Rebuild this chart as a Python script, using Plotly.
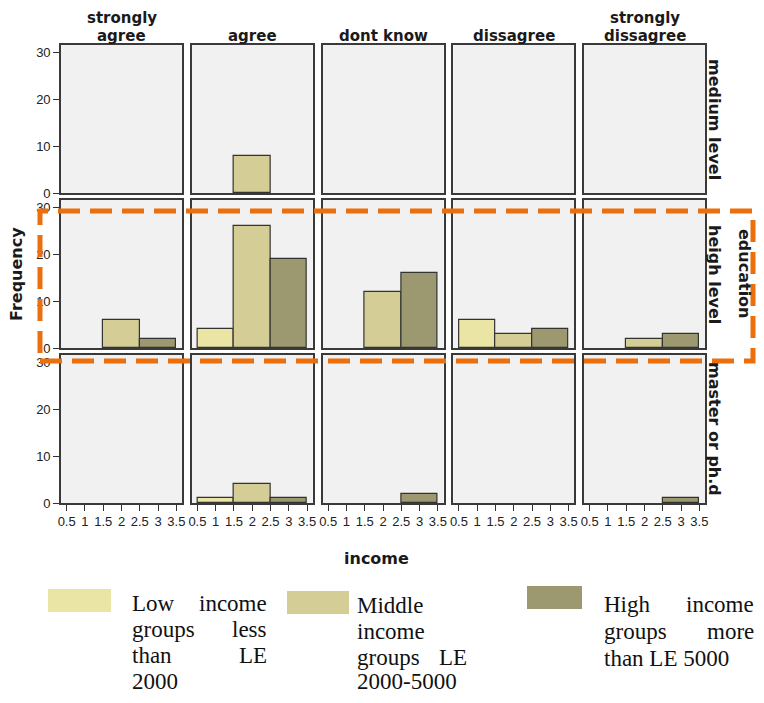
import plotly.graph_objects as go
from plotly.subplots import make_subplots

# ---------------- data ----------------
responses = ["strongly agree", "agree", "dont know", "dissagree", "strongly dissagree"]
header_lines = [["strongly", "agree"], ["agree"], ["dont know"], ["dissagree"], ["strongly", "dissagree"]]
education = ["medium level", "heigh level", "master or ph.d"]
income_codes = [1, 2, 3]
income_groups = ["Low income groups less than LE 2000",
                 "Middle income groups LE 2000-5000",
                 "High income groups more than LE 5000"]
# counts[education][response]
low_income = [[0, 0, 0, 0, 0],
              [0, 4, 0, 6, 0],
              [0, 1, 0, 0, 0]]
middle_income = [[0, 8, 0, 0, 0],
                 [6, 26, 12, 3, 2],
                 [0, 4, 0, 0, 0]]
high_income = [[0, 0, 0, 0, 0],
               [2, 19, 16, 4, 3],
               [0, 1, 2, 0, 1]]
x_tick_vals = [0.5, 1, 1.5, 2, 2.5, 3, 3.5]
x_tick_text = ["0.5", "1", "1.5", "2", "2.5", "3", "3.5"]
y_tick_vals = [0, 10, 20, 30]

colors = ["#EAE4A5", "#D4CE96", "#9C9870"]

# page has an 8px body margin; size the figure so the page does not overflow the window
OFF = 8
W, H = 764 - 2 * OFF, 703 - 2 * OFF
def px(x): return (x - OFF) / W
def py(y): return 1 - (y - OFF) / H

fig = make_subplots(rows=3, cols=5)

series = [low_income, middle_income, high_income]
for r in range(3):
    for c in range(5):
        xs, ys, cs = [], [], []
        for g in range(3):
            v = series[g][r][c]
            if v > 0:
                xs.append(income_codes[g]); ys.append(v); cs.append(colors[g])
        fig.add_trace(go.Bar(x=xs, y=ys, width=1,
                             marker=dict(color=cs, line=dict(color="#333333", width=1.2)),
                             showlegend=False, hoverinfo="x+y"),
                      row=r + 1, col=c + 1)

col_x0 = [61 + i * 130.75 for i in range(5)]
panel_w = 121
row_y0 = [45, 200, 355]
panel_h = 148

tickfont = dict(family="Liberation Sans, Arial, sans-serif", size=13, color="#222222")
for r in range(3):
    for c in range(5):
        idx = r * 5 + c + 1
        xa = "xaxis" if idx == 1 else f"xaxis{idx}"
        ya = "yaxis" if idx == 1 else f"yaxis{idx}"
        x0 = col_x0[c]; y0 = row_y0[r]
        fig.layout[xa].update(
            domain=[px(x0), px(x0 + panel_w)], range=[0.345, 3.655], automargin=False,
            showline=True, mirror=True, linecolor="#3a3a3a", linewidth=1.6,
            showgrid=False, zeroline=False,
            tickvals=x_tick_vals, ticktext=x_tick_text,
            ticks="outside" if r == 2 else "", ticklen=6, tickwidth=1.4, tickcolor="#333333",
            showticklabels=(r == 2), tickfont=tickfont, tickangle=0)
        fig.layout[ya].update(
            domain=[py(y0 + panel_h), py(y0)], range=[0, 31.6], automargin=False,
            showline=True, mirror=True, linecolor="#3a3a3a", linewidth=1.6,
            showgrid=False, zeroline=False,
            tickvals=y_tick_vals,
            ticks="outside" if c == 0 else "", ticklen=6, tickwidth=1.4, tickcolor="#333333",
            showticklabels=(c == 0), tickfont=tickfont)

ann = []
bold = dict(family="DejaVu Sans", size=16, color="#1a1a1a")
head = dict(family="DejaVu Sans", size=15, color="#1a1a1a")
def A(x, y, text, **kw):
    d = dict(x=px(x), y=py(y), xref="paper", yref="paper", text=text, showarrow=False,
             xanchor="center", yanchor="middle")
    d.update(kw)
    ann.append(d)

# column headers
for c in range(5):
    cx = col_x0[c] + panel_w / 2
    lines = header_lines[c]
    ys_ = [17.5, 36] if len(lines) == 2 else [36]
    for t, yy in zip(lines, ys_):
        A(cx, yy, "<b>%s</b>" % t, font=head, borderpad=0)
# row labels
for r in range(3):
    cy = row_y0[r] + panel_h / 2
    A(715, cy, "<b>%s</b>" % education[r], textangle=90, font=bold)
A(745, 274, "<b>education</b>", textangle=90, font=bold)
A(16, 274, "<b>Frequency</b>", textangle=-90, font=bold)
A(376, 558, "<b>income</b>", font=bold)

# legend (justified text blocks)
serif = dict(family="Liberation Serif, Times New Roman, serif", size=23, color="#111111")
legend_blocks = [
    (131, 268, [(603, "Low", "income"), (629, "groups", "less"), (655, "than", "LE"), (681, "2000", None)]),
    (356, 468, [(605, "Middle", None), (631, "income", None), (657, "groups", "LE"), (681, "2000-5000", None)]),
    (603, 755, [(604, "High", "income"), (631, "groups", "more"), (658, "than LE 5000", None)]),
]
for left, right, lines in legend_blocks:
    for yy, lw, rw in lines:
        A(left, yy, lw, xanchor="left", font=serif, borderpad=0)
        if rw:
            A(right, yy, rw, xanchor="right", font=serif, borderpad=0)

shapes = []
legend_rects = [(48, 111, 589, 612), (287, 349, 591, 614), (527, 582, 586, 609)]
for (x0, x1, y0, y1), col in zip(legend_rects, colors):
    shapes.append(dict(type="rect", xref="paper", yref="paper", x0=px(x0), x1=px(x1),
                       y0=py(y1), y1=py(y0), fillcolor=col, line=dict(width=0)))
# orange dashed highlight box
shapes.append(dict(type="rect", xref="paper", yref="paper", x0=px(40), x1=px(753),
                   y0=py(361), y1=py(211), fillcolor="rgba(0,0,0,0)", layer="above",
                   line=dict(color="#EC6F0E", width=5, dash="22px,10px")))

fig.update_layout(width=W, height=H, margin=dict(l=0, r=0, t=0, b=0),
                  paper_bgcolor="white", plot_bgcolor="#F1F1F1",
                  barmode="overlay", bargap=0, showlegend=False,
                  annotations=ann, shapes=shapes)

fig.write_html("out.html")
